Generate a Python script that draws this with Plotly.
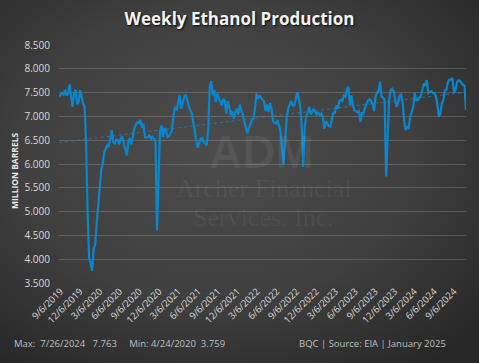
import base64
import numpy as np
import pandas as pd
import plotly.graph_objects as go

# ---------------- data (million barrels per week) ----------------
start_date = "2019-11-22"
v2019 = [7.41, 7.44, 7.49, 7.46, 7.56, 7.44]
v2020 = [7.48, 7.67, 7.41, 7.20, 7.48, 7.56, 7.25, 7.30, 7.55, 7.37,
         7.27, 7.20, 6.43, 4.96, 4.01, 3.92, 3.759, 4.22, 4.31, 4.75,
         5.17, 5.59, 5.87, 5.99, 6.25, 6.32, 6.39, 6.36, 6.53, 6.71,
         6.46, 6.43, 6.51, 6.50, 6.41, 6.55, 6.57, 6.43, 6.32, 6.18,
         6.46, 6.55, 6.41, 6.60, 6.74, 6.83, 6.88, 6.86, 6.93, 6.76,
         6.85, 6.57]
v2021 = [6.55, 6.57, 6.60, 6.53, 6.57, 6.53, 6.50, 4.61, 5.90, 6.70,
         6.81, 6.57, 6.76, 6.71, 6.57, 6.59, 6.64, 6.72, 7.02, 7.20,
         7.13, 7.27, 7.44, 7.16, 7.30, 7.41, 7.46, 7.34, 7.25, 7.13,
         7.07, 6.92, 6.71, 6.50, 6.34, 6.44, 6.53, 6.55, 6.46, 6.43,
         6.39, 6.74, 7.62, 7.74, 7.44, 7.55, 7.30, 7.48, 7.39, 7.34,
         7.23, 7.37, 7.32]
v2022 = [7.06, 7.32, 7.20, 7.02, 7.11, 6.95, 7.09, 7.16, 7.04, 7.25,
         7.11, 7.04, 6.88, 6.76, 6.64, 6.76, 6.85, 6.92, 6.95, 7.16,
         7.48, 7.37, 7.44, 7.39, 7.35, 7.32, 7.11, 7.25, 7.09, 7.28,
         7.16, 6.90, 6.86, 6.85, 6.92, 6.81, 6.67, 6.29, 5.99, 6.50,
         6.95, 7.16, 7.23, 7.32, 7.23, 7.23, 7.34, 7.51, 7.41, 7.20,
         6.81, 5.94]
v2023 = [6.78, 7.00, 7.09, 7.20, 7.04, 7.09, 7.16, 7.09, 7.04, 7.09,
         7.02, 7.06, 6.99, 6.74, 6.90, 6.85, 6.79, 6.78, 6.92, 7.09,
         7.06, 7.23, 7.16, 7.32, 7.35, 7.32, 7.44, 7.42, 7.58, 7.62,
         7.23, 7.44, 7.23, 7.13, 7.11, 7.09, 7.11, 6.88, 7.07, 7.06,
         7.18, 7.27, 7.34, 7.36, 7.32, 7.27, 7.11, 7.41, 7.50, 7.53,
         7.73, 7.42]
v2024 = [7.39, 7.35, 5.74, 6.72, 7.35, 7.55, 7.58, 7.53, 7.35, 7.20,
         7.30, 7.44, 7.46, 7.28, 6.90, 6.71, 6.78, 6.76, 6.99, 7.09,
         7.20, 7.49, 7.34, 7.34, 7.39, 7.43, 7.55, 7.69, 7.65, 7.763,
         7.49, 7.51, 7.53, 7.49, 7.49, 7.42, 7.25, 6.99, 7.06, 7.27,
         7.35, 7.55, 7.56, 7.72, 7.77, 7.77, 7.81, 7.51, 7.55, 7.72,
         7.76, 7.75]
v2025 = [7.70, 7.66, 7.65, 7.13]

tick_labels = ["9/6/2019", "12/6/2019", "3/6/2020", "6/6/2020", "9/6/2020",
               "12/6/2020", "3/6/2021", "6/6/2021", "9/6/2021", "12/6/2021",
               "3/6/2022", "6/6/2022", "9/6/2022", "12/6/2022", "3/6/2023",
               "6/6/2023", "9/6/2023", "12/6/2023", "3/6/2024", "6/6/2024",
               "9/6/2024"]
y_ticks = [3.5, 4.0, 4.5, 5.0, 5.5, 6.0, 6.5, 7.0, 7.5, 8.0, 8.5]

title_text = "Weekly Ethanol Production"
y_title = "MILLION BARRELS"
footer_left = "Max:  7/26/2024   7.763     Min: 4/24/2020  3.759"
footer_right = "BQC | Source: EIA | January 2025"

# ---------------- build ----------------
values = v2019 + v2020 + v2021 + v2022 + v2023 + v2024 + v2025
dates = pd.date_range(start_date, periods=len(values), freq="7D")
idx = np.arange(len(values))
slope, intercept = np.polyfit(idx, values, 1)
trend = slope * idx + intercept

# label positions on the axis as drawn in the source chart
tick_pos = [pd.Timestamp(pd.to_datetime(t, format="%m/%d/%Y")) + pd.Timedelta(days=84)
            for t in tick_labels]

W, H = 479, 363
L, R, T, B = 59, 13, 45, 80
PW, PH = W - L - R, H - T - B


def px(x):
    return (x - L) / PW


def py(y):
    return (H - B - y) / PH


svg = f"""<svg xmlns='http://www.w3.org/2000/svg' width='{W}' height='{H}'>
<defs><radialGradient id='g' cx='0.45' cy='0.42' r='0.75'>
<stop offset='0' stop-color='#4c4c4c'/><stop offset='0.55' stop-color='#3f3f3f'/>
<stop offset='1' stop-color='#262626'/></radialGradient></defs>
<rect width='{W}' height='{H}' fill='url(#g)'/></svg>"""
bg_src = "data:image/svg+xml;base64," + base64.b64encode(svg.encode()).decode()

fig = go.Figure()
fig.add_trace(go.Scatter(x=dates, y=trend, mode="lines",
                         line=dict(color="rgba(20,140,210,0.7)", width=1, dash="dot"),
                         hoverinfo="skip", showlegend=False))
fig.add_trace(go.Scatter(x=dates, y=values, mode="lines",
                         line=dict(color="#0a86cc", width=2.2),
                         showlegend=False))

font_family = "Open Sans, Noto Sans, sans-serif"
wm = "rgba(255,255,255,0.06)"
annotations = [
    dict(text="<b>ADM</b>", x=px(261), y=py(152), showarrow=False,
         font=dict(family="Liberation Sans, Arial", size=46, color=wm)),
    dict(text="Archer Financial", x=px(263), y=py(205), showarrow=False,
         font=dict(family="Liberation Serif, serif", size=26, color=wm)),
    dict(text="Services, Inc.", x=px(263), y=py(234), showarrow=False,
         font=dict(family="Liberation Serif, serif", size=26, color=wm)),
    dict(text="<b>" + y_title + "</b>", x=px(14), y=py(171), showarrow=False,
         xanchor="center", yanchor="middle",
         textangle=-90, font=dict(family=font_family, size=8.5, color="#e6e6e6")),
    dict(text=footer_left, x=px(12), y=py(352), xanchor="left", showarrow=False,
         font=dict(family=font_family, size=9.5, color="#bfbfbf")),
    dict(text=footer_right, x=px(448), y=py(352), xanchor="right", showarrow=False,
         font=dict(family=font_family, size=9.5, color="#bfbfbf")),
]
for a in annotations:
    a["xref"] = "paper"
    a["yref"] = "paper"

fig.update_layout(
    width=W, height=H,
    margin=dict(l=L, r=R, t=T, b=B, autoexpand=False),
    paper_bgcolor="#3a3a3a",
    plot_bgcolor="rgba(0,0,0,0)",
    images=[dict(source=bg_src, xref="paper", yref="paper",
                 x=px(0), y=py(0), sizex=W / PW, sizey=H / PH,
                 xanchor="left", yanchor="top", sizing="stretch", layer="below")],
    title=dict(text="<b>" + title_text + "</b>", x=0.5, xref="container",
               y=1 - 19 / H, yref="container", xanchor="center", yanchor="middle",
               font=dict(family=font_family, size=17, color="#f2f2f2",
                         shadow="1px 1px 2px rgba(0,0,0,0.9)")),
    xaxis=dict(type="date", range=[dates[0], dates[-1]], automargin=False,
               tickvals=tick_pos, ticktext=tick_labels, tickangle=-45,
               showgrid=False, zeroline=False, showline=False, ticks="",
               tickfont=dict(family=font_family, size=9.5, color="#d9d9d9")),
    yaxis=dict(range=[3.5, 8.5], tickvals=y_ticks, tickformat=".3f", automargin=False,
               showgrid=True, gridcolor="rgba(255,255,255,0.16)", gridwidth=1,
               zeroline=False, showline=False, ticks="", ticklabelstandoff=8,
               tickfont=dict(family=font_family, size=10, color="#d9d9d9")),
    annotations=annotations,
    showlegend=False,
)

fig.write_html("out.html", config={"displayModeBar": False},
               post_script="document.body.style.margin='0';"
                           "document.body.style.background='#262626';")
